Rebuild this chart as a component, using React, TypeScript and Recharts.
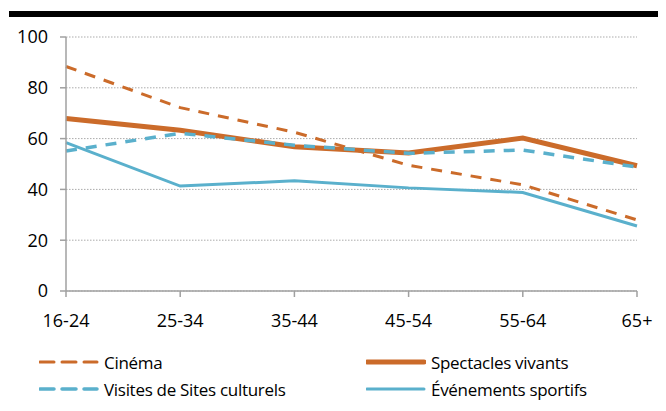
import React from "react";
import { LineChart, Line, XAxis, YAxis, CartesianGrid } from "recharts";

const categories = ["16-24", "25-34", "35-44", "45-54", "55-64", "65+"];
const cinema = [88.4, 72.2, 62.5, 49.5, 41.8, 28];
const spectacles = [67.9, 63.3, 56.8, 54.3, 60.2, 49.3];
const sites = [55.1, 62.1, 57.4, 54.2, 55.5, 48.8];
const sports = [58.4, 41.3, 43.4, 40.6, 38.8, 25.6];
const yTicks = [0, 20, 40, 60, 80, 100];

const ORANGE = "#CB6B2A";
const BLUE = "#5AB0CC";

const seriesDefs = [
  { key: "cinema", name: "Cinéma", values: cinema, color: ORANGE, width: 3, dash: "11 9" },
  { key: "spectacles", name: "Spectacles vivants", values: spectacles, color: ORANGE, width: 5, dash: undefined },
  { key: "sites", name: "Visites de Sites culturels", values: sites, color: BLUE, width: 3.5, dash: "11 9" },
  { key: "sports", name: "Événements sportifs", values: sports, color: BLUE, width: 3, dash: undefined },
];

const data = categories.map((c, i) => {
  const row: Record<string, string | number> = { cat: c };
  seriesDefs.forEach((s) => {
    row[s.key] = s.values[i];
  });
  return row;
});

const FONT = "'Open Sans', sans-serif";

function LegendItem({ s, left, top }: { s: (typeof seriesDefs)[number]; left: number; top: number }) {
  return (
    <div style={{ position: "absolute", left, top, height: 24, display: "flex", alignItems: "center" }}>
      <svg width={60} height={10} style={{ display: "block" }}>
        <line
          x1={1}
          y1={5}
          x2={58}
          y2={5}
          stroke={s.color}
          strokeWidth={s.width}
          strokeDasharray={s.dash ? "14 8" : undefined}
          strokeLinecap="round"
        />
      </svg>
      <span style={{ marginLeft: 5, fontFamily: FONT, fontSize: 17, color: "#000", whiteSpace: "nowrap", letterSpacing: -0.3 }}>
        {s.name}
      </span>
    </div>
  );
}

export default function App() {
  return (
    <div style={{ position: "relative", width: 658, height: 403 }}>
      <div style={{ position: "absolute", left: 1, top: 3, width: 657, height: 6, background: "#000" }} />
      <div style={{ position: "absolute", left: 0, top: 0 }}>
        <LineChart width={658} height={330} data={data} margin={{ top: 29, right: 29, bottom: 0, left: 0 }}>
          <CartesianGrid vertical={false} stroke="#ABABAB" strokeDasharray="1.5 1.5" />
          <XAxis
            dataKey="cat"
            height={47}
            padding={{ left: 0, right: 0 }}
            axisLine={{ stroke: "#A0A0A0", strokeWidth: 1.5 }}
            tickLine={{ stroke: "#A0A0A0", strokeWidth: 1.5 }}
            tickSize={6}
            tick={{ fill: "#000", fontSize: 18, fontFamily: FONT }}
            tickMargin={17}
            interval={0}
          />
          <YAxis
            domain={[0, 100]}
            ticks={yTicks}
            width={58}
            axisLine={{ stroke: "#A0A0A0", strokeWidth: 1.5 }}
            tickLine={{ stroke: "#A0A0A0", strokeWidth: 1.5 }}
            tickSize={6}
            tickMargin={12}
            tick={{ fill: "#000", fontSize: 18, fontFamily: FONT }}
          />
          {seriesDefs.map((s) => (
            <Line
              key={s.key}
              type="linear"
              dataKey={s.key}
              name={s.name}
              stroke={s.color}
              strokeWidth={s.width}
              strokeDasharray={s.dash}
              dot={false}
              activeDot={false}
              isAnimationActive={false}
            />
          ))}
        </LineChart>
      </div>
      <LegendItem s={seriesDefs[0]} left={31} top={342} />
      <LegendItem s={seriesDefs[1]} left={358} top={342} />
      <LegendItem s={seriesDefs[2]} left={31} top={369} />
      <LegendItem s={seriesDefs[3]} left={358} top={369} />
    </div>
  );
}
